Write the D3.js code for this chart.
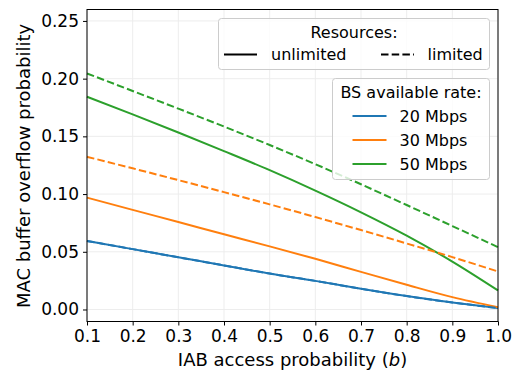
<!DOCTYPE html>
<html>
<head>
<meta charset="utf-8">
<script src="https://cdn.jsdelivr.net/npm/d3@7/dist/d3.min.js"></script>
<style>
  html, body { margin: 0; padding: 0; background: #fff; }
  svg { display: block; font-family: "DejaVu Sans", sans-serif; }
</style>
</head>
<body>
<svg id="chart" width="522" height="374"></svg>
<script>
// IAB access probability b
const accessProb = [0.1, 0.2, 0.3, 0.4, 0.5, 0.6, 0.7, 0.8, 0.9, 1.0];

// MAC buffer overflow probability, unlimited resources
const unlimited20 = [0.0594, 0.0523, 0.0452, 0.0382, 0.0311, 0.0248, 0.0179, 0.0116, 0.0061, 0.0012];
const unlimited30 = [0.0969, 0.0863, 0.0758, 0.0652, 0.0547, 0.0439, 0.0326, 0.0214, 0.0107, 0.0020];
const unlimited50 = [0.1843, 0.1690, 0.1533, 0.1372, 0.1207, 0.1030, 0.0842, 0.0640, 0.0415, 0.0165];

// MAC buffer overflow probability, limited resources
const limited20 = [0.0594, 0.0523, 0.0452, 0.0382, 0.0311, 0.0248, 0.0179, 0.0116, 0.0061, 0.0012];
const limited30 = [0.1323, 0.1223, 0.1121, 0.1017, 0.0911, 0.0801, 0.0688, 0.0572, 0.0454, 0.0329];
const limited50 = [0.2045, 0.1893, 0.1740, 0.1585, 0.1425, 0.1259, 0.1085, 0.0905, 0.0723, 0.0540];

const rateLabels = ["20 Mbps", "30 Mbps", "50 Mbps"];
const rateColors = ["#1f77b4", "#ff7f0e", "#2ca02c"];
const resourceLabels = ["unlimited", "limited"];

const xTicks = [0.1, 0.2, 0.3, 0.4, 0.5, 0.6, 0.7, 0.8, 0.9, 1.0];
const yTicks = [0.00, 0.05, 0.10, 0.15, 0.20, 0.25];

const svg = d3.select("#chart");
const plotLeft = 87, plotRight = 498, plotTop = 9.5, plotBottom = 321.5;

const x = d3.scaleLinear().domain([0.1, 1.0]).range([plotLeft, plotRight]);
const y = d3.scaleLinear().domain([-0.0104, 0.2599]).range([plotBottom, plotTop]);

// grid
const grid = svg.append("g");
grid.selectAll("line.gx").data(xTicks).join("line")
  .attr("class", "gx")
  .attr("x1", d => x(d)).attr("x2", d => x(d))
  .attr("y1", plotTop).attr("y2", plotBottom)
  .attr("stroke", "#ebebeb").attr("stroke-width", 0.9);
grid.selectAll("line.gy").data(yTicks).join("line")
  .attr("class", "gy")
  .attr("x1", plotLeft).attr("x2", plotRight)
  .attr("y1", d => y(d)).attr("y2", d => y(d))
  .attr("stroke", "#ebebeb").attr("stroke-width", 0.9);

// series
const series = [
  { values: unlimited20, color: rateColors[0], dashed: false },
  { values: unlimited30, color: rateColors[1], dashed: false },
  { values: unlimited50, color: rateColors[2], dashed: false },
  { values: limited20, color: rateColors[0], dashed: true },
  { values: limited30, color: rateColors[1], dashed: true },
  { values: limited50, color: rateColors[2], dashed: true }
];

const line = d3.line()
  .x((d, i) => x(accessProb[i]))
  .y(d => y(d))
  .curve(d3.curveMonotoneX);

const plot = svg.append("g");
plot.selectAll("path").data(series).join("path")
  .attr("d", d => line(d.values))
  .attr("fill", "none")
  .attr("stroke", d => d.color)
  .attr("stroke-width", 2)
  .attr("stroke-dasharray", d => d.dashed ? "7.5,3.2" : null);

// axes
const fontTick = 17;
const xAxis = d3.axisBottom(x).tickValues(xTicks).tickFormat(d3.format(".1f")).tickSize(4).tickPadding(4);
const yAxis = d3.axisLeft(y).tickValues(yTicks).tickFormat(d3.format(".2f")).tickSize(4).tickPadding(4);

const gx = svg.append("g").attr("transform", `translate(0,${plotBottom})`).call(xAxis);
const gy = svg.append("g").attr("transform", `translate(${plotLeft},0)`).call(yAxis);
[gx, gy].forEach(g => {
  g.select(".domain").remove();
  g.selectAll(".tick line").attr("stroke", "#000").attr("stroke-width", 1);
  g.selectAll(".tick text").attr("fill", "#000")
    .style("font-family", "DejaVu Sans").style("font-size", fontTick + "px");
});

// frame
svg.append("rect")
  .attr("x", plotLeft).attr("y", plotTop)
  .attr("width", plotRight - plotLeft).attr("height", plotBottom - plotTop)
  .attr("fill", "none").attr("stroke", "#000").attr("stroke-width", 1);

// axis labels
const xl = svg.append("text")
  .attr("x", (plotLeft + plotRight) / 2).attr("y", 366)
  .attr("text-anchor", "middle")
  .style("font-size", "18px");
xl.append("tspan").text("IAB access probability (");
xl.append("tspan").style("font-style", "italic").text("b");
xl.append("tspan").text(")");

svg.append("text")
  .attr("transform", "translate(30,166) rotate(-90)")
  .attr("text-anchor", "middle")
  .style("font-size", "18px")
  .text("MAC buffer overflow probability");

// legend: resources
const lg1 = svg.append("g");
lg1.append("rect")
  .attr("x", 218.5).attr("y", 18.5).attr("width", 271).attr("height", 51)
  .attr("rx", 3).attr("fill", "#fff").attr("fill-opacity", 0.8)
  .attr("stroke", "#cccccc").attr("stroke-width", 1);
lg1.append("text").attr("x", 354).attr("y", 37.5).attr("text-anchor", "middle")
  .style("font-size", "16px").text("Resources:");
resourceLabels.forEach((lab, i) => {
  const x0 = i === 0 ? 224 : 381;
  lg1.append("line")
    .attr("x1", x0).attr("x2", x0 + 33).attr("y1", 54.5).attr("y2", 54.5)
    .attr("stroke", "#000").attr("stroke-width", 2)
    .attr("stroke-dasharray", i === 1 ? "7.5,3.2" : null);
  lg1.append("text").attr("x", i === 0 ? 271 : 427.5).attr("y", 60)
    .style("font-size", "16px").text(lab);
});

// legend: BS available rate
const lg2 = svg.append("g");
lg2.append("rect")
  .attr("x", 332.5).attr("y", 78.5).attr("width", 157).attr("height", 101)
  .attr("rx", 3).attr("fill", "#fff").attr("fill-opacity", 0.8)
  .attr("stroke", "#cccccc").attr("stroke-width", 1);
lg2.append("text").attr("x", 411).attr("y", 97.5).attr("text-anchor", "middle")
  .style("font-size", "16px").text("BS available rate:");
rateLabels.forEach((lab, i) => {
  const yy = 116 + i * 24;
  lg2.append("line")
    .attr("x1", 352.5).attr("x2", 386.5).attr("y1", yy).attr("y2", yy)
    .attr("stroke", rateColors[i]).attr("stroke-width", 2);
  lg2.append("text").attr("x", 399.5).attr("y", yy + 5.5)
    .style("font-size", "16px").text(lab);
});
</script>
</body>
</html>
